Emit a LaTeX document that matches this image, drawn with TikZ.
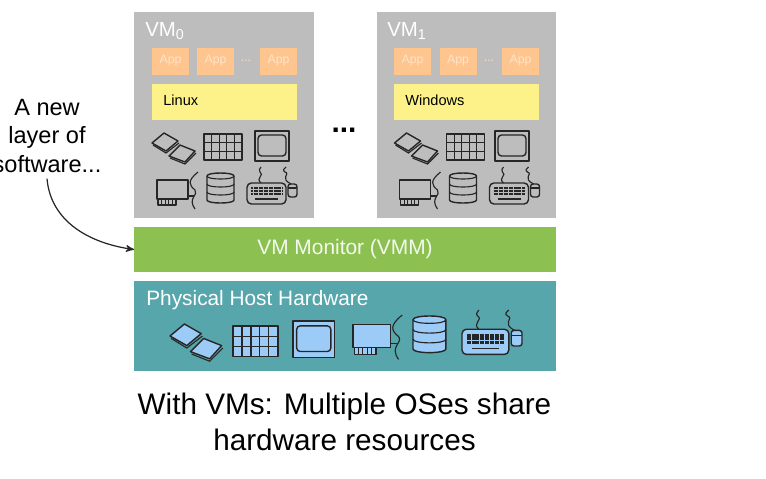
\documentclass[tikz,border=0pt]{standalone}
\usepackage{fontspec}
\setmainfont{Liberation Sans}
\usepackage{xcolor}
\usepackage{tikz}
\usetikzlibrary{arrows}

\definecolor{vmgray}{HTML}{BDBDBD}
\definecolor{appfill}{HTML}{FFC58F}
\definecolor{apptext}{HTML}{FFE3C8}
\definecolor{osfill}{HTML}{FDF28A}
\definecolor{vmmgreen}{HTML}{8CC152}
\definecolor{hosteal}{HTML}{56A6AC}
\definecolor{iconblue}{HTML}{9CCBF7}
\colorlet{iconfill}{vmgray}

\tikzset{
  flatbox/.style={inner sep=0pt, outer sep=0pt},
  vmbox/.style={flatbox, fill=vmgray, minimum width=3.6cm, minimum height=4.12cm},
  appbox/.style={flatbox, fill=appfill, text=apptext, minimum width=.74cm, minimum height=.54cm,
    font=\fontsize{7}{8}\selectfont},
  osbox/.style={flatbox, fill=osfill, minimum width=2.9cm, minimum height=.72cm},
  oslabel/.style={anchor=west, inner sep=0pt, font=\fontsize{8.3}{10}\selectfont},
  vmlabel/.style={anchor=west, inner sep=0pt, text=white, font=\fontsize{11.6}{13}\selectfont},
  icon/.style={draw=black!85, line width=.8pt, fill=iconfill, line join=round},
  wire/.style={draw=black!85, line width=.65pt},
  pics/chips/.style={code={
    \draw[icon] (0,10) -- (12,0) -- (26,8) -- (14,18) -- cycle;
    \draw[wire] (1,12) -- (14,20) -- (27,10);
    \draw[icon] (17,23) -- (28,12) -- (43,18) -- (33,29) -- cycle;
    \draw[wire] (18,25) -- (33,31) -- (44,20);
  }},
  pics/ram/.style={code={
    \draw[icon] (0,0) rectangle (38,26);
    \foreach \gx in {7.6,15.2,22.8,30.4} \draw[wire] (\gx,0) -- (\gx,26);
    \foreach \gy in {8.7,17.3} \draw[wire] (0,\gy) -- (38,\gy);
  }},
  pics/screen/.style={code={
    \draw[icon] (0,0) rectangle (34,30);
    \draw[icon, rounded corners=2pt] (3,4) rectangle (31,25);
  }},
  pics/nic/.style={code={
    \draw[icon] (1,27) rectangle (19,33);
    \foreach \gx in {4.6,8.2,11.8,15.4} \draw[wire] (\gx,27) -- (\gx,33);
    \draw[icon] (0,8) rectangle (31,27);
    \draw[wire] (31,24) -- (37,24);
    \draw[wire] (41,0) .. controls (30,9) and (32,13) .. (38,18)
      .. controls (42,23) and (30,26) .. (38,37);
  }},
  pics/disk/.style={code={
    \draw[icon] (0,3) -- (0,27) .. controls (0,31) and (27,31) .. (27,27)
      -- (27,3) .. controls (27,-1) and (0,-1) .. (0,3) -- cycle;
    \draw[wire] (0,3) .. controls (0,7) and (27,7) .. (27,3);
    \draw[wire] (0,11) .. controls (0,15) and (27,15) .. (27,11);
    \draw[wire] (0,19) .. controls (0,23) and (27,23) .. (27,19);
  }},
  pics/kbd/.style={code={
    \draw[icon, rounded corners=2.5pt] (0,16) rectangle (39,37);
    \foreach \gy in {21,24,27}
      \draw[black!85, line width=1.6pt, dash pattern=on 1.2pt off .25pt] (4,\gy) -- (35,\gy);
    \draw[black!85, line width=1pt] (8,32) -- (31,32);
    \draw[icon, rounded corners=1.5pt] (41,17) rectangle (50,30);
    \draw[wire] (41,21) -- (50,21);
    \draw[wire] (14,16) .. controls (8,11) and (18,8) .. (13,5) .. controls (11,3) and (13,2) .. (14,0);
    \draw[wire] (44,17) .. controls (32,11) and (44,7) .. (38,5) .. controls (35,3) and (37,2) .. (39,0);
  }},
}

% icon block of a VM: shift, then x of the screen
\newcommand{\vmicons}[2]{
  \pic at (#1+152,133) {chips};
  \pic at (#1+204,134) {ram};
  \pic at (#2,131) {screen};
  \pic at (#1+157,172) {nic};
  \pic at (#1+207,173) {disk};
  \pic at (#1+247,167) {kbd};
}

\begin{document}
\begin{tikzpicture}[x=.02cm, y=-.02cm]
  \useasboundingbox (0,0) rectangle (766,478);

  % the two VMs
  \node[vmbox] (vmzero) at (224,115) {};
  \node[vmbox] (vmone) at (466.5,115) {};
  \node[vmlabel] (vmzerolabel) at (145,31) {VM\textsubscript{0}};
  \node[vmlabel] (vmonelabel) at (387,31) {VM\textsubscript{1}};

  \foreach \ax/\an in {170.5/a,215.5/b,278.5/c}
    \node[appbox] (appzero\an) at (\ax,61) {App};
  \foreach \ax/\an in {412.5/a,458/b,520.5/c}
    \node[appbox] (appone\an) at (\ax,61) {App};
  \node[text=apptext, inner sep=0pt, font=\fontsize{7}{8}\selectfont] (dotszero) at (246,61) {...};
  \node[text=apptext, inner sep=0pt, font=\fontsize{7}{8}\selectfont] (dotsone) at (489,61) {...};

  \node[osbox] (linux) at (224.5,102) {};
  \node[osbox] (windows) at (466.5,102) {};
  \node[oslabel] (linuxlabel) at (163,100) {Linux};
  \node[oslabel] (windowslabel) at (405,100) {Windows};

  \vmicons{0}{255}
  \vmicons{242.5}{495}

  \node[inner sep=0pt, font=\bfseries\fontsize{17}{20}\selectfont] (vmdots) at (344,130) {...};

  % monitor and host
  \node[flatbox, fill=vmmgreen, text=white!90!vmmgreen, minimum width=8.44cm, minimum height=.9cm,
    font=\fontsize{11.9}{14}\selectfont] (vmm) at (345,249.5) {\raisebox{-1.2pt}{VM Monitor (VMM)}};
  \node[flatbox, fill=hosteal, minimum width=8.44cm, minimum height=1.8cm] (host) at (345,326) {};
  \node[vmlabel, font=\fontsize{11.85}{14}\selectfont] (hostlabel) at (146,300) {Physical Host Hardware};

  \begin{scope}
    \colorlet{iconfill}{iconblue}
    \pic[scale=1.2] at (170,324) {chips};
    \pic[scale=1.18] at (233,326) {ram};
    \pic[scale=1.22] at (293,321) {screen};
    \pic[scale=1.2] at (353,315) {nic};
    \pic[scale=1.22] at (413,316) {disk};
    \pic[scale=1.2] at (462,310) {kbd};
  \end{scope}

  % note and caption
  \node[align=center, inner sep=0pt, font=\fontsize{13.4}{16}\selectfont] (note) at (47,136)
    {A new\\layer of\\software...};
  \draw[->, >=stealth', line width=.7pt, black!85] (note.south) ++(0,6) coordinate (notefoot)
    to[out=-85, in=172] (vmm.west);

  \node[align=center, inner sep=0pt, font=\fontsize{16.9}{20.4}\selectfont] (caption) at (344.5,422)
    {With VMs: Multiple OSes share\\hardware resources};
\end{tikzpicture}
\end{document}
